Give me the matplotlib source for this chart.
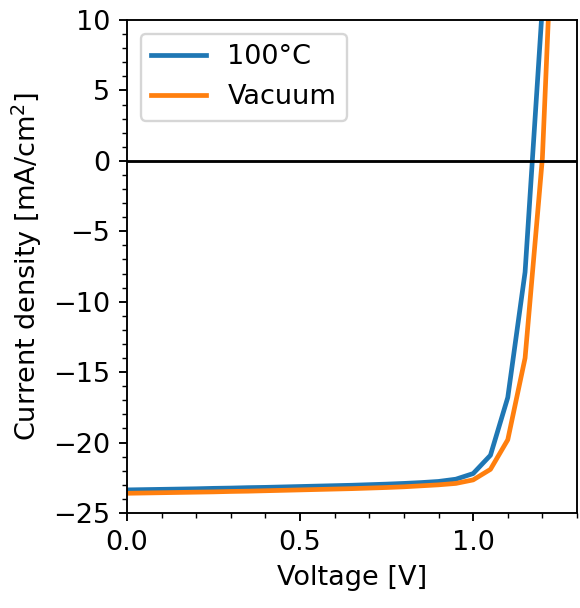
import matplotlib
matplotlib.use("Agg")
import matplotlib.pyplot as plt
from matplotlib.ticker import MultipleLocator

plt.rcParams["font.size"] = 11.5

voltage = [0.0, 0.05, 0.1, 0.15, 0.2, 0.25, 0.3, 0.35, 0.4, 0.45, 0.5, 0.55, 0.6, 0.65,
           0.7, 0.75, 0.8, 0.85, 0.9, 0.95, 1.0, 1.05, 1.1, 1.15, 1.2, 1.25]
j_100c = [-23.36, -23.34, -23.32, -23.30, -23.28, -23.25, -23.23, -23.20, -23.18, -23.15,
          -23.12, -23.09, -23.06, -23.03, -22.99, -22.95, -22.90, -22.84, -22.76, -22.6,
          -22.2, -20.9, -16.8, -7.9, 11.0, 35.0]
j_vacuum = [-23.6, -23.58, -23.56, -23.54, -23.52, -23.50, -23.47, -23.45, -23.42, -23.39,
            -23.36, -23.33, -23.30, -23.27, -23.23, -23.19, -23.14, -23.07, -23.0, -22.9,
            -22.65, -21.9, -19.8, -14.0, 0.2, 29.0]
labels = ["100°C", "Vacuum"]

fig = plt.figure(figsize=(580/170, 608/170), dpi=170)
ax = fig.add_axes([127/580, 1-513/608, (577-127)/580, (513-20)/608])
ax.plot(voltage, j_100c, color="#1f77b4", lw=2, label=labels[0])
ax.plot(voltage, j_vacuum, color="#ff7f0e", lw=2, label=labels[1])
ax.axhline(0, color="black", lw=1.2)
ax.set_xlim(0, 1.3)
ax.set_ylim(-25, 10)
ax.xaxis.set_major_locator(MultipleLocator(0.5))
ax.xaxis.set_minor_locator(MultipleLocator(0.1))
ax.yaxis.set_major_locator(MultipleLocator(5))
ax.yaxis.set_minor_locator(MultipleLocator(1))
ax.set_xlabel("Voltage [V]")
ax.set_ylabel("Current density [mA/cm$^2$]")
ax.legend(loc="upper left")
fig.savefig("out.png", dpi=170)
